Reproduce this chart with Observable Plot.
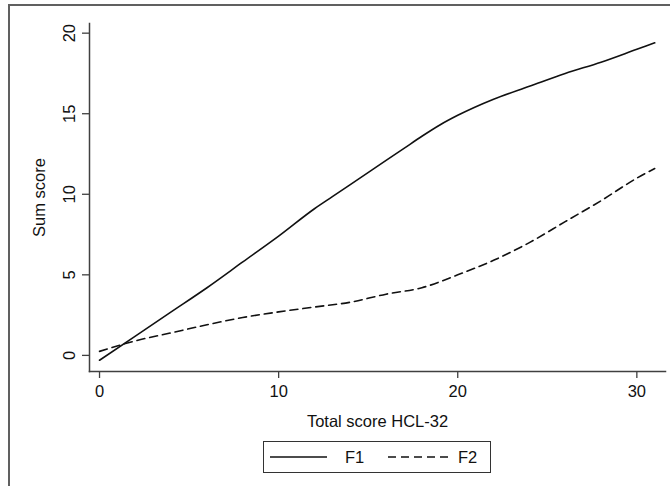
<!DOCTYPE html>
<html>
<head>
<meta charset="utf-8">
<script src="https://cdn.jsdelivr.net/npm/d3@7"></script>
<script src="https://cdn.jsdelivr.net/npm/@observablehq/plot@0.6"></script>
<style>
  html, body { margin: 0; padding: 0; background: #fff; width: 670px; height: 486px; overflow: hidden; }
  #fig { position: absolute; left: 8px; top: 4px; width: 700px; height: 520px;
         border-left: 2px solid #606060; border-top: 2px solid #606060; }
  #chart { position: absolute; left: 0; top: 0; }
  #legend { position: absolute; left: 253px; top: 435px; width: 226px; height: 30px;
            border: 1.5px solid #333; font-family: "Liberation Sans", Arial, sans-serif;
            font-size: 16.5px; color: #111; }
  #legend svg { position: absolute; left: 0; top: 0; }
</style>
</head>
<body>
<div id="fig">
  <div id="chart"></div>
  <div id="legend"></div>
</div>
<script>
// Data
const xF1 = [0, 2, 4, 6, 8, 10, 12, 13, 14, 16, 17, 18, 19, 20, 22, 24, 26, 28, 30, 31];
const yF1 = [-0.3, 1.2, 2.7, 4.2, 5.8, 7.4, 9.1, 9.85, 10.6, 12.1, 12.85, 13.6, 14.3, 14.9, 15.9, 16.7, 17.5, 18.2, 19.0, 19.4];
const xF2 = [0, 2, 4, 6, 8, 10, 12, 14, 16, 18, 20, 22, 24, 26, 28, 30, 31];
const yF2 = [0.25, 0.9, 1.4, 1.9, 2.35, 2.7, 3.0, 3.3, 3.8, 4.2, 5.0, 5.9, 7.0, 8.3, 9.6, 11.0, 11.6];
const seriesNames = ["F1", "F2"];
const xTicks = [0, 10, 20, 30];
const yTicks = [0, 5, 10, 15, 20];
const xTitle = "Total score HCL-32";
const yTitle = "Sum score";

const f1 = xF1.map((x, i) => ({x, y: yF1[i], s: seriesNames[0]}));
const f2 = xF2.map((x, i) => ({x, y: yF2[i], s: seriesNames[1]}));

const font = "Liberation Sans, Arial, sans-serif";
const axisColor = "#404040";

const chart = Plot.plot({
  width: 660,
  height: 424,
  marginLeft: 79,
  marginRight: 5,
  marginTop: 17,
  marginBottom: 59,
  style: {fontFamily: font, fontSize: "16.5px", color: "#111", background: "#fff", overflow: "visible"},
  x: {domain: [-0.56, 31.6]},
  y: {domain: [-1, 20.6]},
  marks: [
    Plot.frame({anchor: "left", stroke: axisColor, strokeWidth: 1.5}),
    Plot.frame({anchor: "bottom", stroke: axisColor, strokeWidth: 1.5}),
    Plot.axisX({ticks: xTicks, tickSize: 7, tickPadding: 7, stroke: axisColor, strokeWidth: 1.3,
                label: xTitle, labelAnchor: "center", labelOffset: 55, labelArrow: "none"}),
    Plot.axisY({ticks: yTicks, tickSize: 7, tickPadding: 8, tickRotate: -90, stroke: axisColor, strokeWidth: 1.3,
                label: yTitle, labelAnchor: "center", labelOffset: 56, labelArrow: "none"}),
    Plot.line(f1, {x: "x", y: "y", stroke: "#111", strokeWidth: 1.6, curve: "monotone-x"}),
    Plot.line(f2, {x: "x", y: "y", stroke: "#111", strokeWidth: 1.6, strokeDasharray: "8,5", curve: "monotone-x"})
  ]
});
document.getElementById("chart").appendChild(chart);

// Legend (below the plot)
const leg = d3.select("#legend").append("svg").attr("width", 226).attr("height", 30);
leg.append("line").attr("x1", 6).attr("x2", 63).attr("y1", 15).attr("y2", 15)
   .attr("stroke", "#111").attr("stroke-width", 1.6);
leg.append("text").attr("x", 81).attr("y", 21).text(seriesNames[0])
   .attr("font-family", font).attr("font-size", 16.5).attr("fill", "#111");
leg.append("line").attr("x1", 124).attr("x2", 186).attr("y1", 15).attr("y2", 15)
   .attr("stroke", "#111").attr("stroke-width", 1.6).attr("stroke-dasharray", "8,5");
leg.append("text").attr("x", 194).attr("y", 21).text(seriesNames[1])
   .attr("font-family", font).attr("font-size", 16.5).attr("fill", "#111");
</script>
</body>
</html>
